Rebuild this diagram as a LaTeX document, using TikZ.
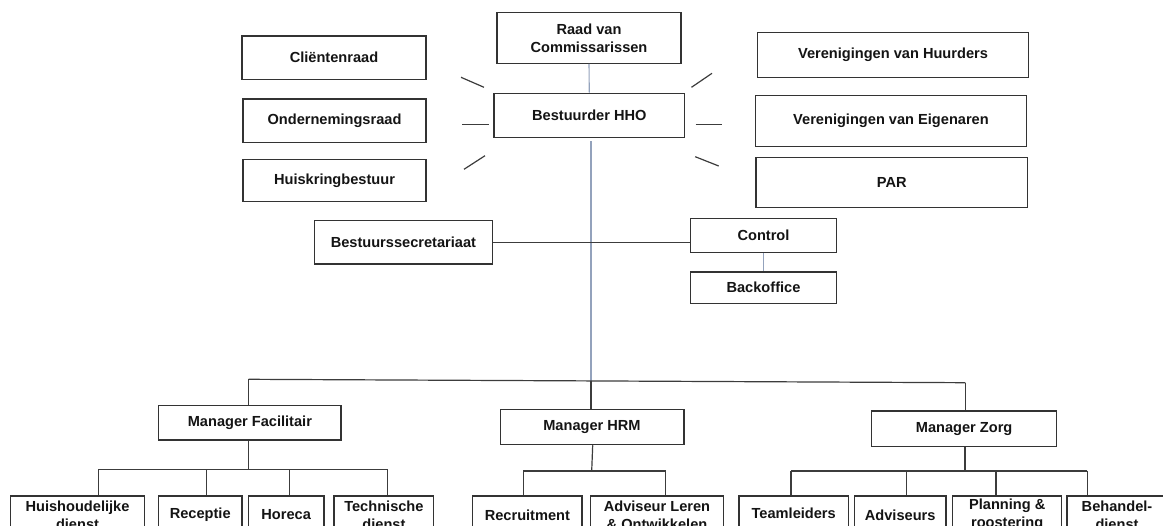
\documentclass[tikz,border=0pt]{standalone}
\usepackage{fontspec}
\setmainfont{Liberation Sans}
\definecolor{boxc}{HTML}{333333}
\definecolor{linec}{HTML}{3C3C3C}
\definecolor{bluec}{HTML}{93A2BC}
\begin{document}
\begin{tikzpicture}[x=1pt,y=-1pt,
  box/.style={draw=boxc, line width=1.3pt, fill=white, inner sep=0pt, align=center,
    font=\bfseries\fontsize{14.6}{17.6}\selectfont, text=black!92},
  conn/.style={draw=linec, line width=1.2pt},
  bconn/.style={draw=bluec, line width=1.1pt}]
\useasboundingbox (0,0) rectangle (1163,526);
\clip (0,0) rectangle (1163,526);

% top group
\node[box, minimum width=184pt, minimum height=50.6pt] (raad) at (589,38) {Raad van\\Commissarissen};
\node[box, minimum width=184pt, minimum height=43.3pt] (client) at (334,57.7) {Cliëntenraad};
\node[box, minimum width=183pt, minimum height=43.3pt] (onder) at (334.5,120.7) {Ondernemingsraad};
\node[box, minimum width=183pt, minimum height=42.4pt] (huisk) at (334.5,180.5) {Huiskringbestuur};
\node[box, minimum width=190.5pt, minimum height=44pt] (best) at (589.3,115.3) {Bestuurder HHO};
\node[box, minimum width=271.4pt, minimum height=44.6pt] (huur) at (893,55) {Verenigingen van Huurders};
\node[box, minimum width=271pt, minimum height=51pt] (eigen) at (891,120.8) {Verenigingen van Eigenaren};
\node[box, minimum width=271.6pt, minimum height=50pt] (par) at (891.8,182.3) {PAR};

% staff
\node[box, minimum width=178pt, minimum height=43.3pt] (secr) at (403.4,242.3) {Bestuurssecretariaat};
\node[box, minimum width=146pt, minimum height=34pt] (control) at (763.5,235.7) {Control};
\node[box, minimum width=146pt, minimum height=31.3pt] (back) at (763.5,287.7) {Backoffice};

% managers
\node[box, minimum width=182.3pt, minimum height=34.3pt] (mfac) at (249.9,422.9) {Manager Facilitair};
\node[box, minimum width=183.7pt, minimum height=35.2pt] (mhrm) at (592,427) {Manager HRM};
\node[box, minimum width=185pt, minimum height=35.3pt] (mzorg) at (964.1,428.7) {Manager Zorg};

% bottom row
\tikzset{low/.style={box, minimum height=38pt}}
\node[low, minimum width=133.6pt] (huish) at (77.5,515) {Huishoudelijke\\dienst};
\node[low, minimum width=83.7pt] (recep) at (200.2,515) {Receptie};
\node[low, minimum width=75.7pt] (horeca) at (286.2,515) {Horeca};
\node[low, minimum width=99.7pt] (techn) at (383.9,515) {Technische\\dienst};
\node[low, minimum width=109.3pt] (recru) at (527.4,515) {Recruitment};
\node[low, minimum width=132.6pt] (advlo) at (657,515) {Adviseur Leren\\\&~Ontwikkelen};
\node[low, minimum width=109.3pt] (teaml) at (793.7,515) {\raisebox{4pt}{Teamleiders}};
\node[low, minimum width=91.7pt] (advis) at (900.2,515) {Adviseurs};
\node[low, minimum width=109pt] (plan) at (1007.2,515) {Planning \&\\roostering};
\node[low, minimum width=100pt] (behan) at (1117,515) {Behandel-\\dienst};

% decorative stubs around Bestuurder
\draw[conn] (461,77.3) -- (484,87.3);
\draw[conn] (462,124.3) -- (489,124.3);
\draw[conn] (464,169.3) -- (485,155.7);
\draw[conn] (691.5,87.3) -- (712,73.3);
\draw[conn] (695.6,124.3) -- (722.4,124.3);
\draw[conn] (695.2,156.7) -- (718.7,166);

% blue connectors
\draw[bconn] (raad.south) -- (best.north);
\coordinate (busM) at (591,381);
\draw[bconn] ([xshift=1.7pt]best.south) ++(0,3.4) -- (busM);
\draw[bconn] (control.south) -- (back.north);

% staff line
\draw[conn] (secr.east) -- (secr.east -| control.west);

% main bus
\coordinate (busL) at (248.6,379.3);
\coordinate (busR) at (965.4,382.7);
\draw[conn] (busL) -- (busR);
\draw[conn] (busL) -- (busL |- mfac.north);
\draw[conn] (busM) -- (busM |- mhrm.north);
\draw[conn] (busR) -- (busR |- mzorg.north);

% Facilitair sub-tree
\coordinate (fM) at (248.6,469.3);
\coordinate (f1) at (98.3,469.3);
\coordinate (f2) at (206.7,469.3);
\coordinate (f3) at (289.3,469.3);
\coordinate (f4) at (387.3,469.3);
\draw[conn] (mfac.south -| fM) -- (fM);
\draw[conn] (f1) -- (f4);
\draw[conn] (f1) -- (f1 |- huish.north);
\draw[conn] (f2) -- (f2 |- recep.north);
\draw[conn] (f3) -- (f3 |- horeca.north);
\draw[conn] (f4) -- (f4 |- techn.north);

% HRM sub-tree
\coordinate (hM) at (591.7,471);
\coordinate (h1) at (523.3,471);
\coordinate (h2) at (665.7,471);
\draw[conn] ([xshift=0.7pt]mhrm.south) -- (hM);
\draw[conn] (h1) -- (h2);
\draw[conn] (h1) -- (h1 |- recru.north);
\draw[conn] (h2) -- (h2 |- advlo.north);

% Zorg sub-tree
\coordinate (zM) at (965,471);
\coordinate (z1) at (791,471);
\coordinate (z2) at (906.7,471);
\coordinate (z3) at (996,471);
\coordinate (z4) at (1087.3,471);
\draw[conn] (mzorg.south -| zM) -- (zM);
\draw[conn] (z1) -- (z4);
\draw[conn] (z1) -- (z1 |- teaml.north);
\draw[conn] (z2) -- (z2 |- advis.north);
\draw[conn] (z3) -- (z3 |- plan.north);
\draw[conn] (z4) -- (z4 |- behan.north);
\end{tikzpicture}
\end{document}
